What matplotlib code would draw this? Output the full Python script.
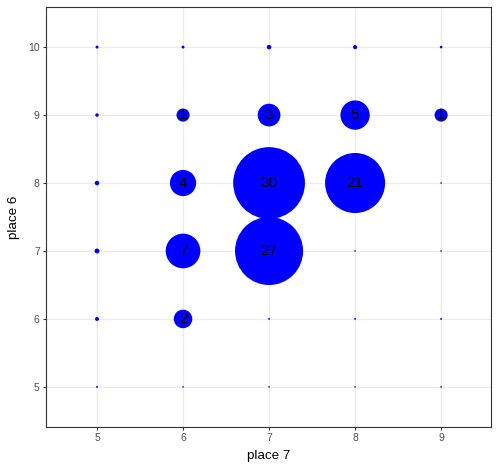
import matplotlib
matplotlib.use("Agg")
import matplotlib.pyplot as plt
import numpy as np

plt.rcParams['font.family'] = ['Liberation Sans', 'DejaVu Sans']

# data: place 7 (x), place 6 (y), value, label
x_vals = [5, 6, 7, 8, 9,
          5, 6, 7, 8, 9,
          5, 6, 7, 8, 9,
          5, 6, 7, 8, 9,
          5, 6, 7, 8, 9,
          5, 6, 7, 8, 9]
y_vals = [10, 10, 10, 10, 10,
          9, 9, 9, 9, 9,
          8, 8, 8, 8, 8,
          7, 7, 7, 7, 7,
          6, 6, 6, 6, 6,
          5, 5, 5, 5, 5]
values = [0.05, 0.05, 0.12, 0.10, 0.04,
          0.07, 1, 3, 5, 1,
          0.12, 4, 30, 21, 0.015,
          0.14, 7, 27, 0.015, 0.015,
          0.09, 2, 0.02, 0.02, 0.02,
          0.02, 0.015, 0.015, 0.015, 0.015]
labels = ["", "", "", "", "",
          "", "1", "3", "5", "1",
          "", "4", "30", "21", "",
          "", "7", "27", "", "",
          "", "2", "", "", "",
          "", "", "", "", ""]
x_ticks = [5, 6, 7, 8, 9]
y_ticks = [5, 6, 7, 8, 9, 10]

fig = plt.figure(figsize=(4.99, 4.72), dpi=100)
ax = fig.add_axes([46/499, 1 - 427/472, (491-46)/499, (427-7)/472])

# diameter in px = 13.1*sqrt(v) ; convert to points (0.72 pt/px)
vals = np.array(values)
diam_pt = 13.1 * np.sqrt(vals) * 0.72
ax.scatter(x_vals, y_vals, s=diam_pt**2, c='#0000FF', edgecolors='none', zorder=3)
for xv, yv, lb in zip(x_vals, y_vals, labels):
    if lb:
        ax.text(xv, yv, lb, ha='center', va='center', fontsize=11, color='black', zorder=4)

ax.set_xlim(4.407, 9.58)
ax.set_ylim(4.41, 10.59)
ax.set_xticks(x_ticks)
ax.set_yticks(y_ticks)
ax.grid(True, color='#EBEBEB', linewidth=0.9, zorder=0)
ax.set_axisbelow(True)
for sp in ax.spines.values():
    sp.set_color('#333333')
    sp.set_linewidth(0.8)
ax.tick_params(axis='both', length=2.5, width=0.8, color='#333333', labelcolor='#4D4D4D',
               labelsize=7.5, pad=2)
ax.set_xlabel('place 7', fontsize=9.6, color='black', labelpad=5)
ax.set_ylabel('place 6', fontsize=9.6, color='black', labelpad=6)

fig.savefig('out.png', dpi=100)
